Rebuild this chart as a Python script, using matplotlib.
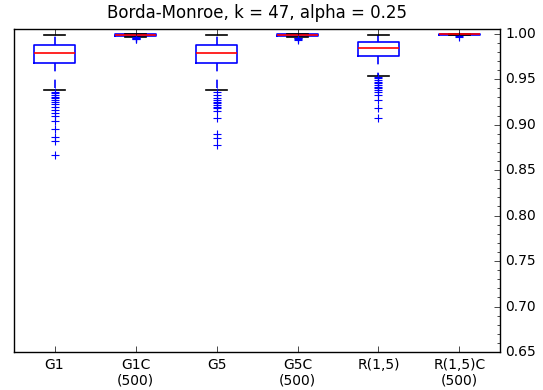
import matplotlib
matplotlib.use("Agg")
import matplotlib.pyplot as plt
from matplotlib.ticker import MultipleLocator, FormatStrFormatter

plt.style.use("classic")
plt.rcParams["font.size"] = 10
plt.rcParams["font.family"] = ["DejaVu Sans"]

# valores
labels = ["G1", "G1C\n(500)", "G5", "G5C\n(500)", "R(1,5)", "R(1,5)C\n(500)"]
medians = [0.9788, 0.9986, 0.9788, 0.9982, 0.9837, 0.9994]
q1 = [0.9682, 0.9978, 0.9678, 0.9972, 0.9755, 0.9988]
q3 = [0.9877, 0.9998, 0.9877, 0.9992, 0.9903, 0.9997]
whislo = [0.9377, 0.9968, 0.9377, 0.9962, 0.9535, 0.9983]
whishi = [0.9987, 1.0, 0.9987, 1.0, 0.9987, 1.0]
fliers = [
    [0.9363, 0.9344, 0.9325, 0.9308, 0.9289, 0.9270, 0.9253, 0.9223, 0.9198,
     0.9160, 0.9123, 0.9098, 0.9039, 0.8950, 0.8867, 0.8818, 0.8671],
    [0.9960, 0.9955, 0.9950, 0.9945, 0.9940],
    [0.9363, 0.9325, 0.9289, 0.9270, 0.9253, 0.9234, 0.9215, 0.9198, 0.9179,
     0.9149, 0.9069, 0.8892, 0.8848, 0.8774],
    [0.9955, 0.9948, 0.9940, 0.9932],
    [0.9528, 0.9509, 0.9491, 0.9473, 0.9454, 0.9436, 0.9418, 0.9399, 0.9380,
     0.9363, 0.9325, 0.9270, 0.9186, 0.9068],
    [0.9975, 0.9965],
]

stats = []
for i in range(len(labels)):
    stats.append({
        "label": labels[i],
        "med": medians[i],
        "q1": q1[i],
        "q3": q3[i],
        "whislo": whislo[i],
        "whishi": whishi[i],
        "fliers": fliers[i],
    })

fig = plt.figure(figsize=(5.43, 3.9), dpi=100, facecolor="white")
ax = fig.add_axes([0.0258, 0.0974, 0.895, 0.828])
ax.bxp(stats, positions=range(1, 7), widths=0.5,
       boxprops=dict(color="b", linewidth=1.2),
       whiskerprops=dict(color="b", linestyle="--", dashes=(6, 6), linewidth=1.2),
       capprops=dict(color="k", linewidth=1.2),
       medianprops=dict(color="r", linewidth=1.2),
       flierprops=dict(marker="+", markeredgecolor="b", markerfacecolor="none",
                       markersize=6, markeredgewidth=0.8, linestyle="none"))

ax.set_xlim(0.5, 6.5)
ax.set_ylim(0.65, 1.005)
ax.yaxis.tick_right()
ax.yaxis.set_major_locator(MultipleLocator(0.05))
ax.yaxis.set_minor_locator(MultipleLocator(0.01))
ax.yaxis.set_major_formatter(FormatStrFormatter("%.2f"))
ax.set_title("Borda-Monroe, k = 47, alpha = 0.25", pad=8)

fig.savefig("out.png", dpi=100, facecolor="white")
